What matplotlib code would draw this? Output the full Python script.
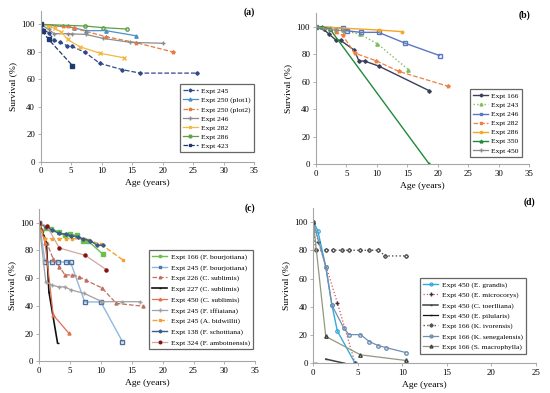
import matplotlib
matplotlib.use("Agg")
import matplotlib.pyplot as plt

plt.rcParams['font.family'] = ['Liberation Serif', 'DejaVu Serif']

# ---------------- Panel (a) data ----------------
a_245_x = [0, 0.4, 1.3, 2.2, 3.2, 4.3, 5.1, 7.3, 9.7, 13.4, 16.3, 25.7]
a_245_y = [100, 96, 94, 88.5, 87, 84.5, 84, 79.5, 71.6, 67, 64.5, 64.5]
a_250p1_x = [0, 5.4, 7.4, 10.7, 15.6]
a_250p1_y = [100, 97.5, 95.4, 95.4, 91.7]
a_250p2_x = [0, 1.3, 3.6, 4.5, 5.4, 10.7, 15.6, 21.7]
a_250p2_y = [100, 98.8, 98.8, 98.5, 97.3, 91, 86.7, 79.9]
a_246_x = [0, 1.3, 2.2, 4.5, 5.2, 7.4, 10.2, 14.7, 20.1]
a_246_y = [100, 96.4, 93.2, 93.2, 93, 92.7, 89.8, 86.9, 86.2]
a_282_x = [0, 1.3, 2.3, 3.4, 4.4, 6.4, 9.8, 13.6]
a_282_y = [100, 98.8, 97, 94.4, 89, 83.7, 78.9, 75.7]
a_286_x = [0, 7.2, 10.2, 14.1]
a_286_y = [100, 98.8, 97.6, 96.6]
a_423_x = [0, 0.3, 1.3, 5.2]
a_423_y = [100, 95, 89, 70]

# ---------------- Panel (b) data ----------------
b_166_x = [0, 1.3, 2.1, 3.3, 4.1, 6.3, 7.1, 8.0, 10.3, 18.6]
b_166_y = [100, 98, 95, 90.3, 90, 83, 75, 75, 71.4, 53.4]
b_243_x = [0, 1.0, 2.3, 3.4, 4.4, 7.3, 10.1, 15.2]
b_243_y = [100, 99.5, 99, 98, 97.5, 94.4, 87.6, 68.7]
b_246_x = [0, 4.5, 5.2, 7.4, 10.3, 14.7, 20.3]
b_246_y = [100, 99, 97, 95.9, 95.9, 87.9, 79]
b_282_x = [0, 3.3, 4.4, 6.4, 9.9, 13.6, 21.7]
b_282_y = [100, 96, 93.7, 80.8, 75.2, 67.5, 56.6]
b_286_x = [0, 10.3, 14.2]
b_286_y = [100, 97.6, 96.4]
b_350_x = [0, 1.0, 2.3, 18.6]
b_350_y = [100, 99.8, 98.5, 0]
b_450_x = [0, 1.2, 2.3, 3.4, 4.6]
b_450_y = [100, 99, 98, 97.5, 97]

# ---------------- Panel (c) data ----------------
c_166_x = [0, 1.2, 2.0, 3.3, 4.2, 5.0, 6.2, 7.2, 8.0, 10.3]
c_166_y = [100, 96, 95.7, 93, 91, 91.5, 90.8, 87, 86.5, 77.4]
c_245b_x = [0, 1.0, 2.1, 3.1, 4.4, 5.1, 7.4, 10.0, 13.5]
c_245b_y = [100, 71.6, 71.6, 71.6, 71.6, 71.6, 42.8, 42.8, 14.2]
c_226_x = [0, 0.5, 1.3, 2.3, 3.3, 4.2, 5.3, 6.5, 7.6, 10.2, 12.5, 16.9]
c_226_y = [100, 95, 85, 73.8, 68.3, 62.3, 62.3, 61, 58.4, 52.9, 41.8, 39.7]
c_227_x = [0, 1.2, 1.6, 3.0]
c_227_y = [100, 85.6, 50.2, 13.2]
c_450_x = [0, 1.0, 2.3, 4.8]
c_450_y = [100, 85, 33.4, 20.4]
c_245f_x = [0, 1.1, 2.1, 3.2, 4.2, 5.1, 7.3, 10.2, 13.4, 16.4]
c_245f_y = [100, 57.2, 54.9, 53.7, 53.7, 51.6, 49, 43, 43, 43]
c_245a_x = [0, 0.9, 2.1, 3.2, 4.3, 5.3, 7.4, 10.0, 13.6]
c_245a_y = [100, 88.5, 88.5, 88.5, 88.5, 88.5, 88, 84.5, 73]
c_138_x = [0, 1.2, 2.1, 3.3, 4.4, 5.2, 6.3, 7.2, 8.3, 9.4, 10.3]
c_138_y = [100, 97, 94.5, 92.3, 91.5, 90.6, 90, 88.1, 87, 83.7, 83.7]
c_324_x = [0, 1.3, 3.3, 7.5, 10.9]
c_324_y = [100, 97.4, 81.7, 76.4, 66.1]

# ---------------- Panel (d) data ----------------
d_eg_x = [0, 0.5, 1.4, 2.1, 2.7, 4.7]
d_eg_y = [100, 94, 68.4, 41, 22.9, 0]
d_em_x = [0, 0.56, 2.7, 4.7]
d_em_y = [100, 86, 43, 0]
d_ct_x = [1.4, 3.5]
d_ct_y = [3, 0]
d_ep_x = [0, 0.3]
d_ep_y = [0, 0]
d_ki_x = [0, 0.26, 1.4, 2.2, 3.2, 4.0, 5.2, 6.3, 7.3, 8.1, 10.4]
d_ki_y = [100, 80, 80, 80, 80, 80, 80, 80, 80, 76, 76]
d_ks_x = [0, 1.4, 2.1, 3.4, 4.0, 5.3, 6.3, 7.3, 8.2, 10.4]
d_ks_y = [100, 68.4, 41, 25.3, 20.3, 20.3, 15.4, 12.5, 11.1, 7.6]
d_sm_x = [0, 1.4, 5.3, 10.4]
d_sm_y = [100, 19, 6, 2]

W, H = 550, 393
fig = plt.figure(figsize=(5.5, 3.93), dpi=100)

def px_axes(left, right, y0, ytop):
    return fig.add_axes([left / W, 1 - y0 / H, (right - left) / W, (y0 - ytop) / H])

def style(ax, xmax, xstep):
    ax.set_xlim(0, xmax)
    ax.set_ylim(0, 110)
    ax.set_xticks(range(0, xmax + 1, xstep))
    ax.set_yticks(range(0, 101, 20))
    for s in ['top', 'right']:
        ax.spines[s].set_visible(False)
    for s in ['left', 'bottom']:
        ax.spines[s].set_color('#A6A6A6')
        ax.spines[s].set_linewidth(0.8)
    ax.tick_params(labelsize=6.3, length=2, width=0.6, color='#A6A6A6', pad=2)
    ax.set_xlabel('Age (years)', fontsize=6.8, labelpad=3)
    ax.set_ylabel('Survival (%)', fontsize=6.8, labelpad=3)

def leg(ax, right, top, spacing=0.38):
    lg = ax.legend(loc='upper right', bbox_to_anchor=(right / W, 1 - top / H),
                   bbox_transform=fig.transFigure, fontsize=5.4, frameon=True,
                   fancybox=False, borderaxespad=0, handlelength=2.0,
                   labelspacing=spacing, borderpad=0.45, handletextpad=0.45,
                   markerscale=0.85)
    lg.get_frame().set_edgecolor('#404040')
    lg.get_frame().set_linewidth(0.9)

ms = 2.4
# ---------------- Panel (a) ----------------
ax = px_axes(40.7, 254, 161.7, 10.6)
ax.plot(a_245_x, a_245_y, '--', color='#2F4A8A', lw=0.9, marker='D', ms=1.8, label='Expt 245')
ax.plot(a_250p1_x, a_250p1_y, '-', color='#4A90C8', lw=0.9, marker='^', ms=ms, label='Expt 250 (plot1)')
ax.plot(a_250p2_x, a_250p2_y, '--', color='#E87A3C', lw=0.9, marker='*', ms=2.8, label='Expt 250 (plot2)')
ax.plot(a_246_x, a_246_y, '-', color='#8C8C8C', lw=0.9, marker='+', ms=2.8, label='Expt 246')
ax.plot(a_282_x, a_282_y, '-', color='#F5B840', lw=0.9, marker='x', ms=2.2, label='Expt 282')
ax.plot(a_286_x, a_286_y, '-', color='#5BA04A', lw=0.9, marker='o', ms=ms, mfc='none', label='Expt 286')
ax.plot(a_423_x, a_423_y, '--', color='#1F3A6E', lw=0.9, marker='s', ms=2.3, label='Expt 423')
style(ax, 35, 5)
leg(ax, 254.3, 84)
fig.text(255 / W, 1 - 12 / H, '(a)', fontsize=7, fontweight='bold', ha='right', va='center')

# ---------------- Panel (b) ----------------
ax = px_axes(315.7, 529.3, 164, 13)
ax.plot(b_166_x, b_166_y, '-', color='#3A3F5A', lw=1.0, marker='D', ms=1.8, label='Expt 166')
ax.plot(b_243_x, b_243_y, ':', color='#7DBF5E', lw=1.0, marker='^', ms=ms, label='Expt 243')
ax.plot(b_246_x, b_246_y, '-', color='#5A78C0', lw=1.0, marker='s', ms=ms, mfc='none', label='Expt 246')
ax.plot(b_282_x, b_282_y, '--', color='#F08040', lw=0.9, marker='*', ms=2.8, label='Expt 282')
ax.plot(b_286_x, b_286_y, '-', color='#F5A623', lw=1.0, marker='o', ms=1.8, label='Expt 286')
ax.plot(b_350_x, b_350_y, '-', color='#1F8A3A', lw=1.0, marker='^', ms=ms, label='Expt 350')
ax.plot(b_450_x, b_450_y, '-', color='#8C8C8C', lw=0.9, marker='+', ms=2.8, label='Expt 450')
style(ax, 35, 5)
leg(ax, 522.3, 89.3)
fig.text(530 / W, 1 - 15 / H, '(b)', fontsize=7, fontweight='bold', ha='right', va='center')

# ---------------- Panel (c) ----------------
ax = px_axes(39, 255.3, 361.3, 208.8)
ax.plot(c_166_x, c_166_y, '-', color='#6AC04A', lw=1.0, marker='s', ms=2.2, label='Expt 166 (F. bourjotiana)')
ax.plot(c_245b_x, c_245b_y, '-', color='#8FB8E0', lw=1.0, marker='s', ms=ms, mfc='none', mec='#4A6FA0', label='Expt 245 (F. bourjotiana)')
ax.plot(c_226_x, c_226_y, '--', color='#C07060', lw=0.9, marker='^', ms=2.2, label='Expt 226 (C. sublimis)')
ax.plot(c_227_x, c_227_y, '-', color='#111111', lw=1.2, marker='_', ms=2, label='Expt 227 (C. sublimis)')
ax.plot(c_450_x, c_450_y, '-', color='#E07050', lw=0.9, marker='^', ms=2.2, label='Expt 450 (C. sublimis)')
ax.plot(c_245f_x, c_245f_y, '-', color='#A0A0A0', lw=0.9, marker='+', ms=2.8, label='Expt 245 (F. iffiaiana)')
ax.plot(c_245a_x, c_245a_y, '--', color='#F5A030', lw=1.0, marker='s', ms=1.8, label='Expt 245 (A. bidwillii)')
ax.plot(c_138_x, c_138_y, '-', color='#3A5A8A', lw=1.0, marker='D', ms=1.8, label='Expt 138 (F. schottiana)')
ax.plot(c_324_x, c_324_y, '-', color='#D0A8A0', lw=0.9, marker='o', ms=2.2, mfc='#8B1010', mec='#8B1010', label='Expt 324 (F. amboinensis)')
style(ax, 35, 5)
leg(ax, 253.3, 250, spacing=0.55)
fig.text(255 / W, 1 - 208 / H, '(c)', fontsize=7, fontweight='bold', ha='right', va='center')

# ---------------- Panel (d) ----------------
ax = px_axes(313.3, 535.7, 363.3, 207.9)
ax.plot(d_eg_x, d_eg_y, '-', color='#33AADD', lw=1.0, marker='o', ms=2.5, mfc='none', mew=0.9, label='Expt 450 (E. grandis)')
ax.plot(d_em_x, d_em_y, ':', color='#E05050', lw=0.9, marker='+', ms=2.8, mec='#333333', label='Expt 450 (E. microcorys)')
ax.plot(d_ct_x, d_ct_y, '-', color='#404040', lw=1.1, marker='_', ms=2, label='Expt 450 (C. toerlliana)')
ax.plot(d_ep_x, d_ep_y, '-', color='#111111', lw=0.9, marker='_', ms=2, label='Expt 450 (E. pilularis)')
ax.plot(d_ki_x, d_ki_y, ':', color='#505050', lw=1.0, marker='D', ms=2.0, mfc='none', label='Expt 166 (K. ivorensis)')
ax.plot(d_ks_x, d_ks_y, '-', color='#7090B0', lw=0.9, marker='o', ms=2.5, mfc='none', label='Expt 166 (K. senegalensis)')
ax.plot(d_sm_x, d_sm_y, '-', color='#909880', lw=0.9, marker='^', ms=2.5, mfc='none', mec='#404040', label='Expt 166 (S. macrophylla)')
style(ax, 25, 5)
leg(ax, 526, 278, spacing=0.5)
fig.text(535 / W, 1 - 202 / H, '(d)', fontsize=7, fontweight='bold', ha='right', va='center')

fig.savefig('out.png', dpi=100)
